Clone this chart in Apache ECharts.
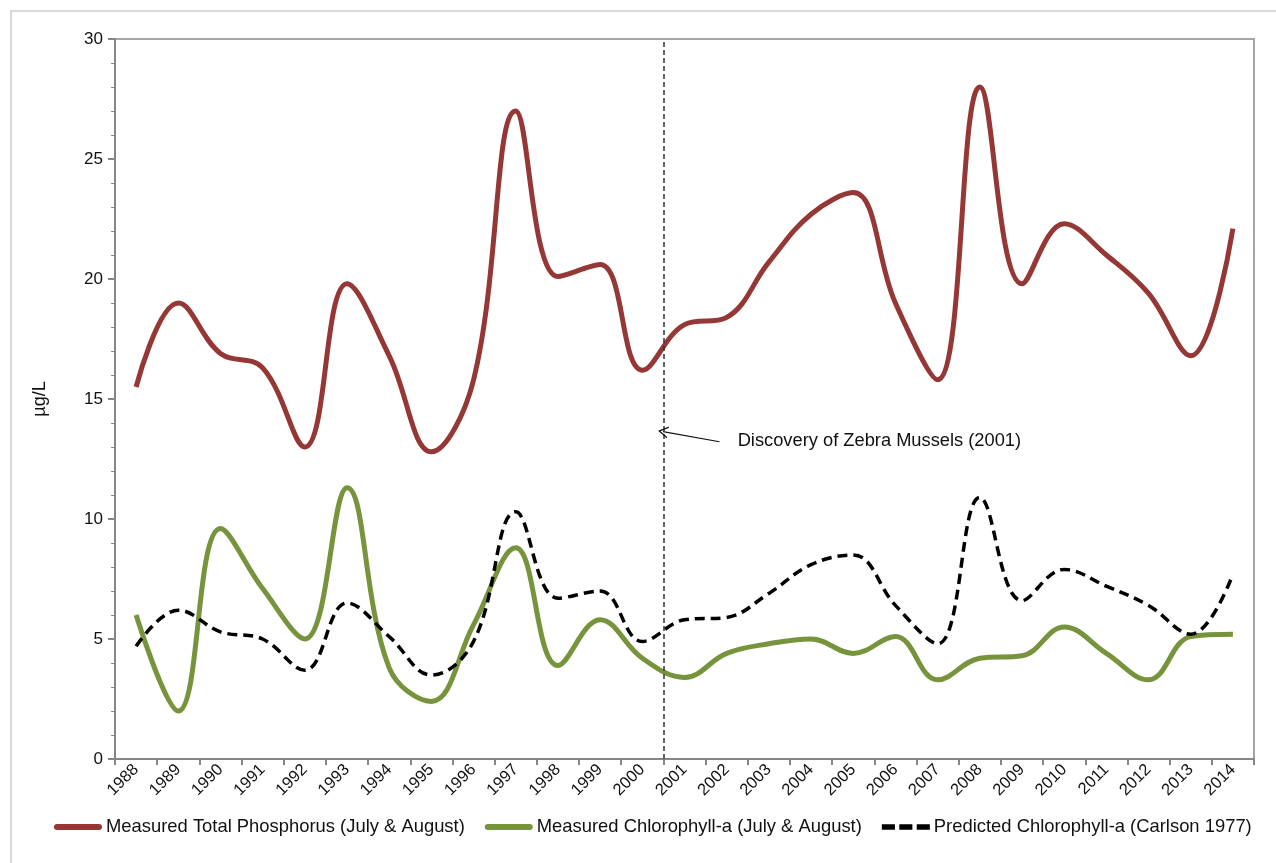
<!DOCTYPE html>
<html>
<head>
<meta charset="utf-8">
<script src="https://cdn.jsdelivr.net/npm/echarts@6.0.0/dist/echarts.min.js"></script>
<style>
  html, body { margin: 0; padding: 0; background: #fff; }
  #chart { width: 1276px; height: 863px; }
</style>
</head>
<body>
<div id="chart"></div>
<script>
// years on the category axis
var years = ["1988", "1989", "1990", "1991", "1992", "1993", "1994", "1995", "1996",
  "1997", "1998", "1999", "2000", "2001", "2002", "2003", "2004", "2005", "2006",
  "2007", "2008", "2009", "2010", "2011", "2012", "2013", "2014"];

// µg/L
var phosphorus = [15.5, 19.0, 16.9, 16.3, 13.0, 19.8, 16.8, 12.8, 15.8, 27.0, 20.1, 20.6, 16.2,
  18.1, 18.4, 20.7, 22.7, 23.6, 19.0, 15.8, 28.0, 19.8, 22.3, 21.0, 19.4, 16.8, 22.1];
var chlorophyll = [6.0, 2.0, 9.6, 7.1, 5.0, 11.3, 3.8, 2.4, 5.6, 8.8, 3.9, 5.8, 4.2,
  3.4, 4.4, 4.8, 5.0, 4.4, 5.1, 3.3, 4.2, 4.3, 5.5, 4.4, 3.3, 5.1, 5.2];
var predicted = [4.7, 6.2, 5.3, 5.0, 3.7, 6.5, 5.1, 3.5, 4.9, 10.3, 6.7, 7.0, 4.9,
  5.8, 5.9, 6.9, 8.1, 8.5, 6.4, 4.8, 10.9, 6.6, 7.9, 7.2, 6.4, 5.2, 7.7];

var seriesNames = [
  "Measured Total Phosphorus (July & August)",
  "Measured Chlorophyll-a (July & August)",
  "Predicted Chlorophyll-a (Carlson 1977)"
];

// zebra mussel marker: boundary between 2000 and 2001 (band index 13)
var mussels = 13;
var noteText = "Discovery of Zebra Mussels (2001)";

var font = "Liberation Sans, Arial, sans-serif";
var chart = echarts.init(document.getElementById("chart"));

var solidIcon = "path://M3,0 H45 A3,3 0 0 1 45,6 H3 A3,3 0 0 1 3,0 Z";
var dashIcon = "path://M0,0 H12 V5 H0 Z M16,0 H28 V5 H16 Z M32,0 H44 V5 H32 Z";

var option = {
  backgroundColor: "#fff",
  animation: false,
  textStyle: { fontFamily: font },
  graphic: [{
    type: "rect",
    shape: { x: 11, y: 11, width: 1290, height: 900 },
    style: { fill: "none", stroke: "#d9d9d9", lineWidth: 2 },
    silent: true
  }],
  grid: {
    left: 115,
    right: 22,
    top: 39,
    bottom: 104,
    show: true,
    borderColor: "#a6a6a6",
    borderWidth: 2
  },
  legend: {
    data: [
      { name: seriesNames[0], icon: solidIcon },
      { name: seriesNames[1], icon: solidIcon },
      { name: seriesNames[2], icon: dashIcon }
    ],
    left: 49,
    top: 813,
    itemWidth: 48,
    itemHeight: 6,
    itemGap: 20,
    textStyle: { fontFamily: font, fontSize: 18.4, color: "#111", padding: [0, 0, 0, -1] }
  },
  xAxis: [{
    type: "category",
    data: years,
    boundaryGap: true,
    axisLine: { lineStyle: { color: "#868686", width: 2 } },
    axisTick: { show: true, length: 6, lineStyle: { color: "#868686", width: 2 } },
    axisLabel: {
      interval: 0,
      rotate: 45,
      margin: 8,
      color: "#111",
      fontFamily: font,
      fontSize: 16.5
    }
  }, {
    type: "value",
    min: 0,
    max: 27,
    show: false
  }],
  yAxis: {
    type: "value",
    min: 0,
    max: 30,
    interval: 5,
    name: "µg/L",
    nameLocation: "middle",
    nameGap: 66,
    nameTextStyle: { fontFamily: font, fontSize: 18, color: "#111" },
    axisLine: { show: true, lineStyle: { color: "#868686", width: 2 } },
    axisTick: { show: true, length: 7, lineStyle: { color: "#868686", width: 2 } },
    minorTick: { show: true, splitNumber: 5, length: 4, lineStyle: { color: "#868686", width: 1 } },
    splitLine: { show: false },
    axisLabel: { color: "#111", fontFamily: font, fontSize: 17, margin: 12 }
  },
  series: [{
    name: seriesNames[0],
    type: "line",
    data: phosphorus,
    smooth: 0.4,
    symbol: "none",
    color: "#953735",
    lineStyle: { color: "#953735", width: 5 }
  }, {
    name: seriesNames[1],
    type: "line",
    data: chlorophyll,
    smooth: 0.4,
    symbol: "none",
    color: "#77933c",
    lineStyle: { color: "#77933c", width: 5 }
  }, {
    name: seriesNames[2],
    type: "line",
    data: predicted,
    smooth: 0.4,
    symbol: "none",
    color: "#000",
    lineStyle: { color: "#000", width: 3.5, type: [10, 6] }
  }, {
    // annotation layer on the hidden value x axis
    type: "line",
    xAxisIndex: 1,
    data: [],
    silent: true,
    markLine: {
      silent: true,
      animation: false,
      symbol: ["none", "none"],
      label: { show: false },
      lineStyle: { color: "#333", width: 1.5, type: [5, 3] },
      data: [
        { xAxis: mussels },
        [
          { coord: [14.33, 13.22], lineStyle: { color: "#111", width: 1.2, type: "solid" }, symbol: "none" },
          { coord: [12.99, 13.64], symbol: "path://M0,12 L6,0 L12,12 L10.6,12 L6,3 L1.4,12 Z", symbolSize: [12, 10] }
        ]
      ]
    },
    markPoint: {
      silent: true,
      symbolSize: 0,
      data: [{
        coord: [14.76, 13.24],
        label: {
          show: true,
          position: "right",
          distance: 0,
          formatter: noteText,
          color: "#111",
          fontFamily: font,
          fontSize: 18.3
        }
      }]
    }
  }]
};

chart.setOption(option);
</script>
</body>
</html>
